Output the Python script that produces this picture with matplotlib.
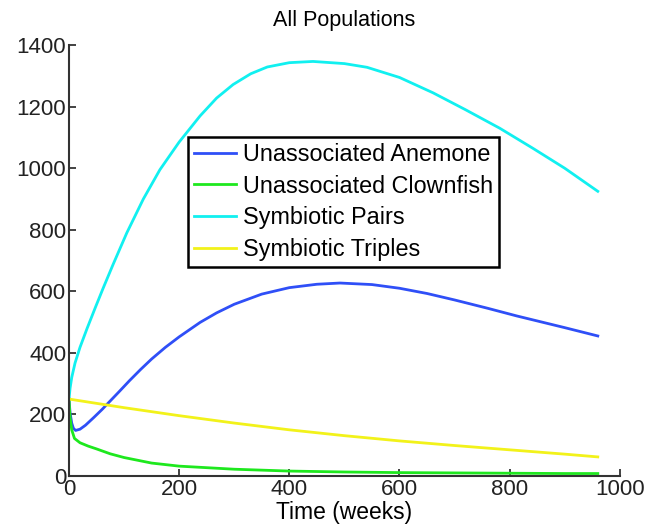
import matplotlib
matplotlib.use("Agg")
import matplotlib.pyplot as plt

plt.rcParams['font.family'] = ['Liberation Sans', 'DejaVu Sans']

# time points (weeks) and population values
t_anemone = [0, 2, 5, 8, 12, 20, 30, 45, 60, 75, 90, 110, 130, 150, 175, 200,
             238, 268, 300, 350, 400, 450, 492, 550, 600, 650, 700, 760, 813,
             900, 960]
anemone = [250, 205, 172, 155, 148, 152, 165, 190, 216, 244, 272, 310, 346, 380,
           418, 452, 499, 530, 558, 591, 612, 623, 627, 622, 610, 593, 572, 545,
           520, 482, 455]

t_clown = [0, 2, 5, 10, 20, 35, 50, 75, 100, 150, 200, 300, 400, 500, 600, 700,
           800, 900, 960]
clownfish = [250, 190, 150, 122, 108, 97, 88, 72, 60, 42, 32, 22, 16, 13, 11,
             10, 9, 8, 8]

t_pairs = [0, 2, 5, 11, 20, 33, 48, 62, 80, 105, 135, 165, 200, 238, 268, 298,
           330, 360, 400, 443, 500, 541, 600, 661, 720, 782, 842, 900, 960]
pairs = [250, 285, 320, 367, 418, 480, 548, 610, 687, 790, 900, 995, 1085, 1170,
         1228, 1272, 1307, 1329, 1343, 1347, 1340, 1328, 1295, 1245, 1190, 1130,
         1065, 1000, 925]

t_triples = [0, 100, 200, 300, 400, 500, 600, 700, 800, 900, 960]
triples = [250, 222, 196, 172, 150, 131, 114, 99, 85, 71, 62]

labels = ['Unassociated Anemone', 'Unassociated Clownfish',
          'Symbiotic Pairs', 'Symbiotic Triples']
colors = ['#2f4ff7', '#1ee81e', '#11f0f0', '#f2f21a']

fig = plt.figure(figsize=(6.47, 5.31), dpi=100)
ax = fig.add_axes([0.1066, 0.1036, 0.8514, 0.8114])

series = [(t_anemone, anemone), (t_clown, clownfish),
          (t_pairs, pairs), (t_triples, triples)]
for (t, y), lab, c in zip(series, labels, colors):
    ax.plot(t, y, color=c, lw=2, label=lab)

ax.set_xlim(0, 1000)
ax.set_ylim(0, 1400)
ax.set_xticks(range(0, 1001, 200))
ax.set_yticks(range(0, 1401, 200))
ax.tick_params(direction='in', length=5, width=1.2, labelsize=16, pad=2,
               colors='#222222')
for side in ['top', 'right']:
    ax.spines[side].set_visible(False)
for side in ['left', 'bottom']:
    ax.spines[side].set_linewidth(1.5)
    ax.spines[side].set_color('#333333')

ax.set_title('All Populations', fontsize=15.5, pad=14)
ax.set_xlabel('Time (weeks)', fontsize=16.5, labelpad=1)

leg = ax.legend(loc='upper left', bbox_to_anchor=(0.216, 0.787), fontsize=16.8,
                fancybox=False, framealpha=1, edgecolor='black',
                handlelength=1.8, handletextpad=0.3, borderpad=0.25,
                labelspacing=0.38, borderaxespad=0)
leg.get_frame().set_linewidth(1.8)

fig.savefig('out.png', dpi=100)
